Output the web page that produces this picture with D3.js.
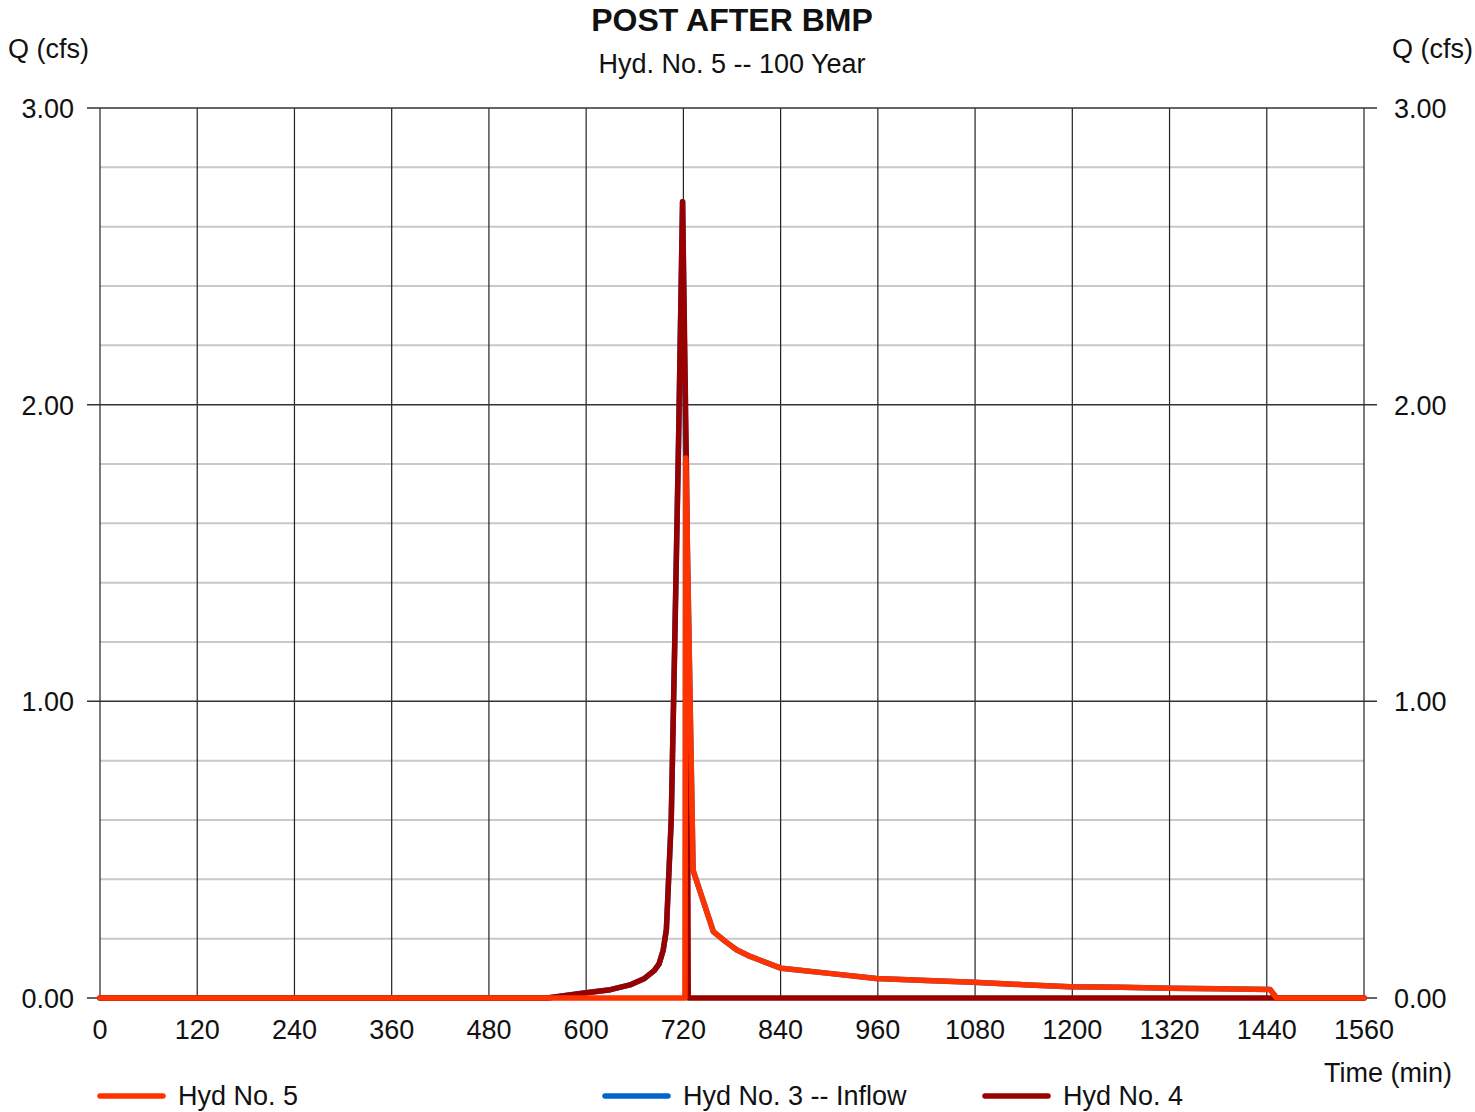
<!DOCTYPE html>
<html>
<head>
<meta charset="utf-8">
<script src="https://cdn.jsdelivr.net/npm/d3@7"></script>
<style>
  html, body { margin: 0; padding: 0; background: #fff; }
  svg { display: block; font-family: "Liberation Sans", Arial, sans-serif; }
</style>
</head>
<body>
<svg id="chart" width="1475" height="1112"></svg>
<script>
// ---- Data ----
const titleText = "POST AFTER BMP";
const subtitleText = "Hyd. No. 5 -- 100 Year";
const timeTicks = [0, 120, 240, 360, 480, 600, 720, 840, 960, 1080, 1200, 1320, 1440, 1560];
const qMajorTicks = [0, 1, 2, 3];
const qMinorTicks = [0.2, 0.4, 0.6, 0.8, 1.2, 1.4, 1.6, 1.8, 2.2, 2.4, 2.6, 2.8];

// Hyd No. 3 -- Inflow
const inflowTime = [0, 552, 600, 630, 654, 672, 684, 690, 695, 699, 705, 709, 714, 719, 723, 732, 757, 772, 786, 800, 814, 841, 900, 958, 1020, 1078, 1140, 1197, 1260, 1320, 1380, 1444, 1452, 1560];
const inflowQ    = [0, 0, 0.018, 0.028, 0.044, 0.066, 0.092, 0.115, 0.16, 0.23, 0.6, 1.15, 1.87, 2.684, 1.82, 0.43, 0.224, 0.19, 0.162, 0.143, 0.128, 0.100, 0.083, 0.066, 0.059, 0.053, 0.045, 0.038, 0.036, 0.033, 0.031, 0.029, 0, 0];

// Hyd No. 4
const hyd4Time = [0, 552, 600, 630, 654, 672, 684, 690, 695, 699, 705, 709, 714, 719, 724, 726, 1560];
const hyd4Q    = [0, 0, 0.018, 0.028, 0.044, 0.066, 0.092, 0.115, 0.16, 0.23, 0.6, 1.15, 1.87, 2.684, 1.75, 0, 0];

// Hyd No. 5
const hyd5Time = [0, 722, 723, 732, 757, 772, 786, 800, 814, 841, 900, 958, 1020, 1078, 1140, 1197, 1260, 1320, 1380, 1444, 1452, 1560];
const hyd5Q    = [0, 0, 1.82, 0.43, 0.224, 0.19, 0.162, 0.143, 0.128, 0.100, 0.083, 0.066, 0.059, 0.053, 0.045, 0.038, 0.036, 0.033, 0.031, 0.029, 0, 0];

const seriesNames = ["Hyd No. 5", "Hyd No. 3 -- Inflow", "Hyd No. 4"];
const seriesColors = ["#ff3300", "#0066cc", "#990000"];

// ---- Layout ----
const svg = d3.select("#chart");
const L = 100, R = 1364, T = 108, B = 998;
const x = d3.scaleLinear().domain([0, 1560]).range([L, R]);
const y = d3.scaleLinear().domain([0, 3]).range([B, T]);
const FS = 27;

// minor gridlines
svg.append("g").selectAll("line").data(qMinorTicks).join("line")
  .attr("x1", L).attr("x2", R)
  .attr("y1", d => y(d)).attr("y2", d => y(d))
  .attr("stroke", "#c8c8c8").attr("stroke-width", 2);

// vertical gridlines
svg.append("g").selectAll("line").data(timeTicks).join("line")
  .attr("x1", d => x(d)).attr("x2", d => x(d))
  .attr("y1", T).attr("y2", B)
  .attr("stroke", "#222").attr("stroke-width", 1.2);

// major horizontal gridlines with ticks on both sides
svg.append("g").selectAll("line").data(qMajorTicks).join("line")
  .attr("x1", L - 13).attr("x2", R + 13)
  .attr("y1", d => y(d)).attr("y2", d => y(d))
  .attr("stroke", "#333").attr("stroke-width", 1.5);

// Y tick labels
const fmt = d3.format(".2f");
svg.append("g").selectAll("text").data(qMajorTicks).join("text")
  .attr("x", 74).attr("y", d => y(d) + 10)
  .attr("text-anchor", "end").attr("font-size", FS).attr("fill", "#111")
  .text(d => fmt(d));
svg.append("g").selectAll("text").data(qMajorTicks).join("text")
  .attr("x", 1394).attr("y", d => y(d) + 10)
  .attr("text-anchor", "start").attr("font-size", FS).attr("fill", "#111")
  .text(d => fmt(d));

// X tick labels
svg.append("g").selectAll("text").data(timeTicks).join("text")
  .attr("x", d => x(d)).attr("y", 1039)
  .attr("text-anchor", "middle").attr("font-size", FS).attr("fill", "#111")
  .text(d => d);

// titles
svg.append("text").attr("x", 732).attr("y", 31).attr("text-anchor", "middle")
  .attr("font-size", 32).attr("font-weight", "bold").attr("fill", "#111").text(titleText);
svg.append("text").attr("x", 732).attr("y", 73).attr("text-anchor", "middle")
  .attr("font-size", FS).attr("fill", "#111").text(subtitleText);
svg.append("text").attr("x", 8).attr("y", 58).attr("font-size", FS).attr("fill", "#111").text("Q (cfs)");
svg.append("text").attr("x", 1473).attr("y", 58).attr("text-anchor", "end").attr("font-size", FS).attr("fill", "#111").text("Q (cfs)");
svg.append("text").attr("x", 1452).attr("y", 1082).attr("text-anchor", "end").attr("font-size", FS).attr("fill", "#111").text("Time (min)");

// series lines
const line = d3.line().x(d => x(d[0])).y(d => y(d[1]));
const series = [
  { t: inflowTime, q: inflowQ, c: seriesColors[1] },
  { t: hyd4Time, q: hyd4Q, c: seriesColors[2] },
  { t: hyd5Time, q: hyd5Q, c: seriesColors[0] }
];
series.forEach(s => {
  svg.append("path")
    .datum(s.t.map((t, i) => [t, s.q[i]]))
    .attr("d", line)
    .attr("fill", "none")
    .attr("stroke", s.c)
    .attr("stroke-width", 5.5)
    .attr("stroke-linejoin", "round")
    .attr("stroke-linecap", "round");
});

// legend
const legendX = [100, 605, 985];
const lg = svg.append("g").selectAll("g").data(seriesNames).join("g")
  .attr("transform", (d, i) => `translate(${legendX[i]},1096)`);
lg.append("line").attr("x1", 0).attr("x2", 63).attr("y1", 0).attr("y2", 0)
  .attr("stroke", (d, i) => seriesColors[i]).attr("stroke-width", 5.5).attr("stroke-linecap", "round");
lg.append("text").attr("x", 78).attr("y", 9).attr("font-size", FS).attr("fill", "#111").text(d => d);
</script>
</body>
</html>
